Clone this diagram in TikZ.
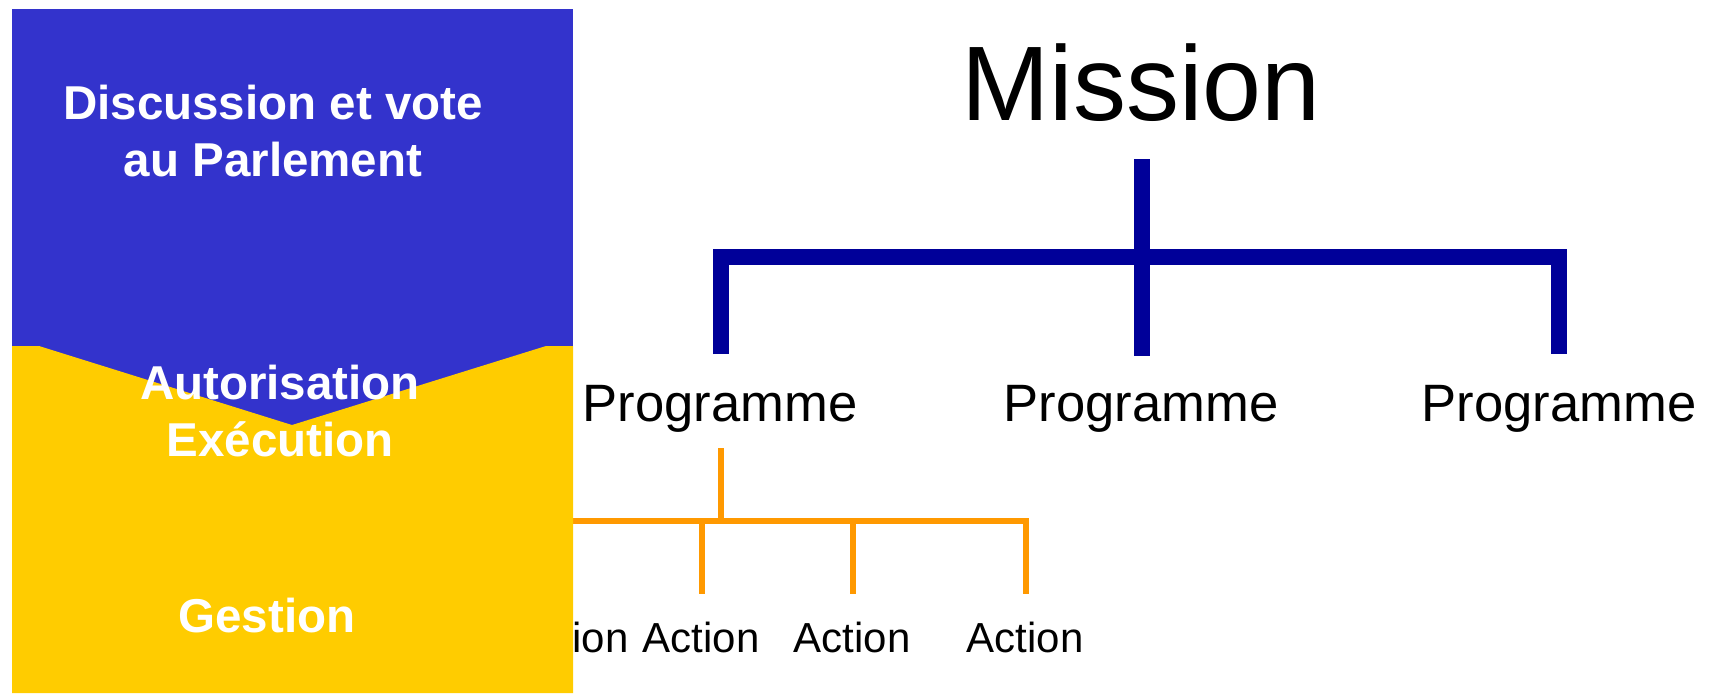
\documentclass[tikz,border=0pt]{standalone}
\usepackage{fontspec}
\setmainfont{Liberation Sans}
\definecolor{panelblue}{HTML}{3333CC}
\definecolor{panelyellow}{HTML}{FFCC00}
\definecolor{treeblue}{HTML}{000099}
\definecolor{treeorange}{HTML}{FF9900}
\tikzset{
    bigtext/.style={inner sep=0pt, font=\fontsize{53}{60}\selectfont},
    progtext/.style={inner sep=0pt, anchor=base, font=\fontsize{26.3}{30}\selectfont},
    acttext/.style={inner sep=0pt, anchor=base, font=\fontsize{21}{25}\selectfont},
    paneltext/.style={inner sep=0pt, text=white, align=center, font=\fontsize{23.75}{28.75}\selectfont\bfseries},
    missiontree/.style={draw=treeblue, line width=8pt, miter limit=10},
    actiontree/.style={draw=treeorange, line width=3.25pt, miter limit=10}
}
\begin{document}
\begin{tikzpicture}[x=0.5pt,y=-0.5pt]
    \useasboundingbox(0,0)rectangle(1713,693);

    \node[bigtext, anchor=base](mission)at(1141,120){Mission};
    \node[progtext](prog1)at(720,421){Programme};
    \node[progtext](prog2)at(1141,421){Programme};
    \node[progtext](prog3)at(1559,421){Programme};

    \coordinate(mtop)at(1142,159);
    \coordinate(mbot)at(1142,356);
    \coordinate(mleft)at(721,354);
    \coordinate(mright)at(1559,354);
    \draw[missiontree](mleft)--(mleft|-0,257)--(mright|-0,257)--(mright);
    \draw[missiontree](mtop)--(mbot);

    \node[acttext](act0)at(570,652){Action};
    \node[acttext](act1)at(701,652){Action};
    \node[acttext](act2)at(852,652){Action};
    \node[acttext](act3)at(1025,652){Action};

    \coordinate(ptop)at(721,448);
    \coordinate(a0)at(570,594);
    \coordinate(a1)at(702,594);
    \coordinate(a2)at(853,594);
    \coordinate(a3)at(1026,594);
    \draw[actiontree](ptop)--(ptop|-0,521);
    \draw[actiontree](a0)--(a0|-0,521)--(a3|-0,521)--(a3);
    \draw[actiontree](a1|-0,521)--(a1);
    \draw[actiontree](a2|-0,521)--(a2);

    \fill[panelblue](12,9)rectangle(573,693);
    \fill[panelyellow](12,346)--(39,346)--(292,425)--(546,346)--(573,346)--(573,693)--(12,693)--cycle;

    \node[paneltext](vote)at(273,131){Discussion et vote\\au Parlement};
    \node[paneltext](exec)at(280,411){Autorisation\\Exécution};
    \node[paneltext, anchor=base](gestion)at(267,632){Gestion};
\end{tikzpicture}
\end{document}
